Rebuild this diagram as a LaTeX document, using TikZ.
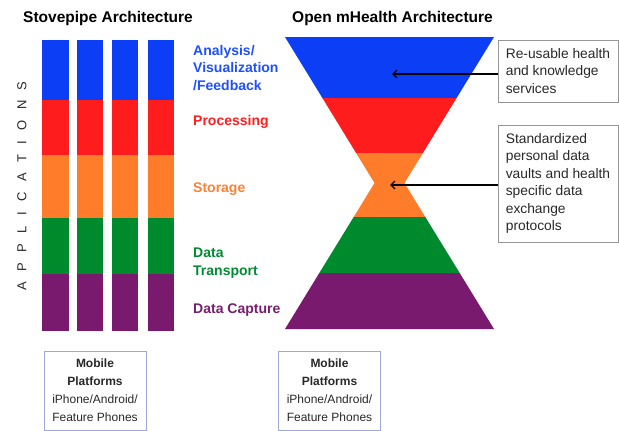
\documentclass[tikz,border=0pt]{standalone}
\usepackage{fontspec}
\setmainfont{Liberation Sans}
\usetikzlibrary{arrows.meta}
\definecolor{cblue}{RGB}{12,62,245}
\definecolor{cred}{RGB}{255,28,28}
\definecolor{corange}{RGB}{255,125,42}
\definecolor{cgreen}{RGB}{0,138,46}
\definecolor{cpurple}{RGB}{122,26,110}
\definecolor{tblue}{RGB}{30,80,255}
\definecolor{tred}{RGB}{255,30,30}
\definecolor{torange}{RGB}{255,128,50}
\definecolor{tgreen}{RGB}{0,140,50}
\definecolor{tpurple}{RGB}{120,30,110}
\definecolor{boxgray}{RGB}{150,150,150}
\definecolor{boxblue}{RGB}{158,168,220}
\definecolor{txtgray}{RGB}{40,40,40}
\newcommand{\lsp}{\hspace{10.4pt}}
\begin{document}
\begin{tikzpicture}[x=1pt,y=-1pt,
  title/.style={anchor=base west,inner sep=0pt,font=\fontsize{15.5}{18}\selectfont\bfseries},
  layerlabel/.style={anchor=base west,inner sep=0pt,align=left,font=\fontsize{14}{17.5}\selectfont\bfseries},
  notebox/.style={draw=boxgray,line width=0.9pt,align=left,inner sep=0pt,text=txtgray,
     font=\fontsize{13.8}{17.5}\selectfont},
  platbox/.style={draw=boxblue,line width=0.9pt,align=center,inner sep=0pt,text=txtgray,
     minimum width=102pt,minimum height=79pt,font=\fontsize{12}{18}\selectfont},
  pointer/.style={line width=1.3pt,-{Straight Barb[length=4pt,width=8pt]}}
]
\useasboundingbox (0,0) rectangle (619,431);

% titles
\node[title] (t1) at (23,23) {Stovepipe Architecture};
\node[title] (t2) at (292,23) {Open mHealth Architecture};

% stovepipe columns
\foreach \xa/\xb in {42/69,77/103,112/138,148/174}{
  \fill[cblue]   (\xa,40)  rectangle (\xb,100);
  \fill[cred]    (\xa,100) rectangle (\xb,155);
  \fill[corange] (\xa,155) rectangle (\xb,218);
  \fill[cgreen]  (\xa,218) rectangle (\xb,274);
  \fill[cpurple] (\xa,274) rectangle (\xb,331);
}

% applications vertical label
\node[rotate=90,inner sep=0pt,font=\fontsize{13}{15}\selectfont,text=txtgray] (apps) at (22,186)
  {A\lsp P\lsp P\lsp L\lsp I\lsp C\lsp A\lsp T\lsp I\lsp O\lsp N\lsp S};

% layer labels (base = last line)
\node[layerlabel,text=tblue] (l1) at (193,90) {Analysis/\\Visualization\\/Feedback};
\node[layerlabel,text=tred] (l2) at (193,125) {Processing};
\node[layerlabel,text=torange] (l3) at (193,192) {Storage};
\node[layerlabel,text=tgreen] (l4) at (193,275) {Data\\Transport};
\node[layerlabel,text=tpurple] (l5) at (193,313) {Data Capture};

% hourglass
\fill[cblue]   (285,37) -- (494,37) -- (456.6,98) -- (322.4,98) -- cycle;
\fill[cred]    (322.4,98) -- (456.6,98) -- (422.9,153) -- (356.1,153) -- cycle;
\fill[corange] (356.1,153) -- (422.9,153) -- (404.5,183) -- (425.3,217) -- (353.7,217) -- (374.5,183) -- cycle;
\fill[cgreen]  (353.7,217) -- (425.3,217) -- (459.7,273) -- (319.3,273) -- cycle;
\fill[cpurple] (319.3,273) -- (459.7,273) -- (494,329) -- (285,329) -- cycle;

% note boxes
\node[notebox,minimum width=120pt,minimum height=62pt] (box1) at (558,71)
  {Re-usable health\\and knowledge\\services};
\node[notebox,minimum width=120pt,minimum height=117pt] (box2) at (558,183.5)
  {Standardized\\personal data\\vaults and health\\specific data\\exchange\\protocols};

\coordinate (tip1) at (392,74);
\coordinate (tip2) at (390,185);
\draw[pointer] (box1.west |- tip1) -- (tip1);
\draw[pointer] (box2.west |- tip2) -- (tip2);

% platform boxes
\node[platbox] (p1) at (95,390.5) {\textbf{Mobile}\\\textbf{Platforms}\\iPhone/Android/\\Feature Phones};
\node[platbox] (p2) at (329.5,390.5) {\textbf{Mobile}\\\textbf{Platforms}\\iPhone/Android/\\Feature Phones};
\end{tikzpicture}
\end{document}
